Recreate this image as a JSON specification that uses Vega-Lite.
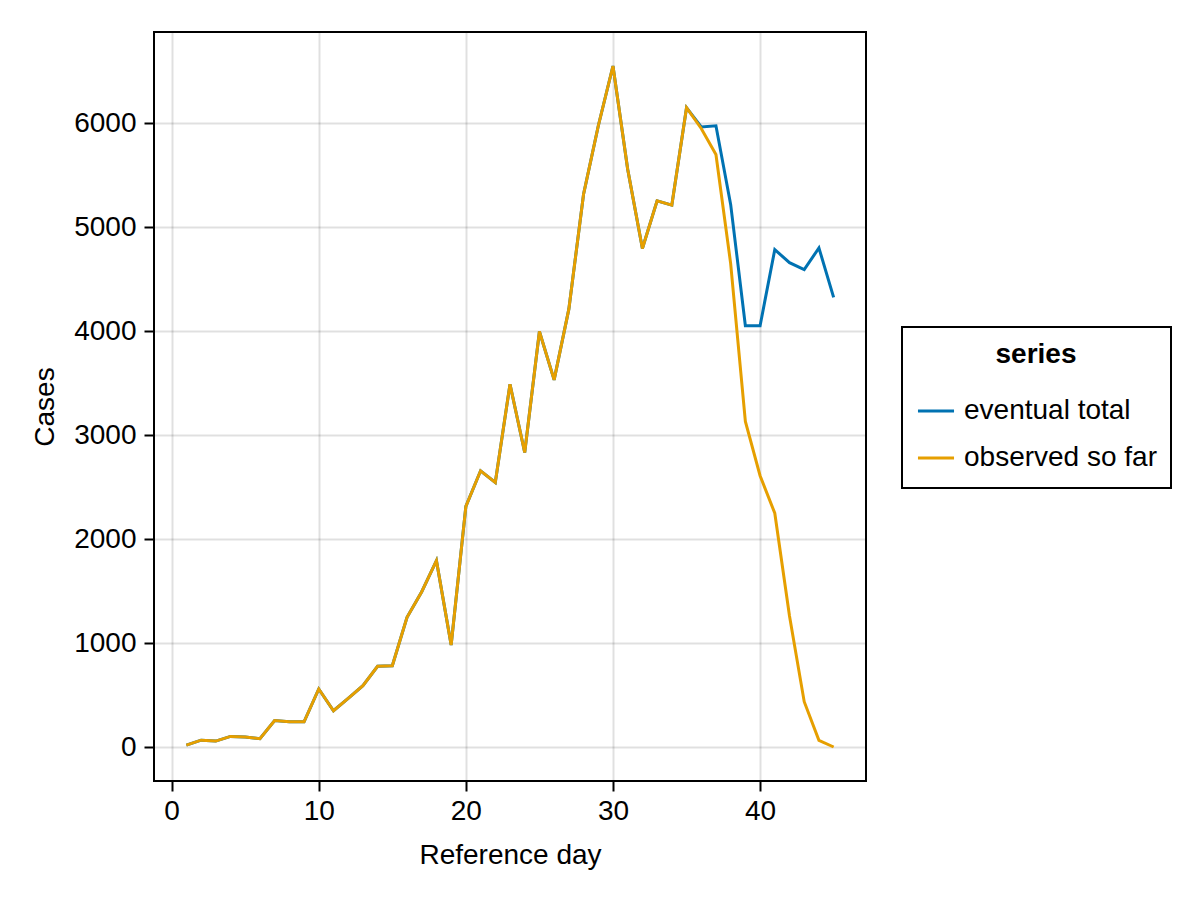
{
  "$schema": "https://vega.github.io/schema/vega-lite/v6.json",
  "description": "Eventual total vs observed so far, cases by reference day",
  "autosize": "none",
  "padding": {"left": 154, "top": 32, "right": 334, "bottom": 119},
  "width": 712,
  "height": 749,
  "data": {
    "values": [
      {"day": 1, "series": "eventual total", "cases": 18},
      {"day": 2, "series": "eventual total", "cases": 66},
      {"day": 3, "series": "eventual total", "cases": 57},
      {"day": 4, "series": "eventual total", "cases": 102},
      {"day": 5, "series": "eventual total", "cases": 96},
      {"day": 6, "series": "eventual total", "cases": 80},
      {"day": 7, "series": "eventual total", "cases": 254},
      {"day": 8, "series": "eventual total", "cases": 244},
      {"day": 9, "series": "eventual total", "cases": 243},
      {"day": 10, "series": "eventual total", "cases": 558},
      {"day": 11, "series": "eventual total", "cases": 349},
      {"day": 12, "series": "eventual total", "cases": 468},
      {"day": 13, "series": "eventual total", "cases": 590},
      {"day": 14, "series": "eventual total", "cases": 776},
      {"day": 15, "series": "eventual total", "cases": 782},
      {"day": 16, "series": "eventual total", "cases": 1247},
      {"day": 17, "series": "eventual total", "cases": 1494},
      {"day": 18, "series": "eventual total", "cases": 1792},
      {"day": 19, "series": "eventual total", "cases": 981},
      {"day": 20, "series": "eventual total", "cases": 2315},
      {"day": 21, "series": "eventual total", "cases": 2657},
      {"day": 22, "series": "eventual total", "cases": 2545},
      {"day": 23, "series": "eventual total", "cases": 3490},
      {"day": 24, "series": "eventual total", "cases": 2833},
      {"day": 25, "series": "eventual total", "cases": 3997},
      {"day": 26, "series": "eventual total", "cases": 3532},
      {"day": 27, "series": "eventual total", "cases": 4212},
      {"day": 28, "series": "eventual total", "cases": 5317},
      {"day": 29, "series": "eventual total", "cases": 5974},
      {"day": 30, "series": "eventual total", "cases": 6551},
      {"day": 31, "series": "eventual total", "cases": 5558},
      {"day": 32, "series": "eventual total", "cases": 4795},
      {"day": 33, "series": "eventual total", "cases": 5253},
      {"day": 34, "series": "eventual total", "cases": 5212},
      {"day": 35, "series": "eventual total", "cases": 6150},
      {"day": 36, "series": "eventual total", "cases": 5965},
      {"day": 37, "series": "eventual total", "cases": 5976},
      {"day": 38, "series": "eventual total", "cases": 5220},
      {"day": 39, "series": "eventual total", "cases": 4053},
      {"day": 40, "series": "eventual total", "cases": 4053},
      {"day": 41, "series": "eventual total", "cases": 4785},
      {"day": 42, "series": "eventual total", "cases": 4659},
      {"day": 43, "series": "eventual total", "cases": 4592},
      {"day": 44, "series": "eventual total", "cases": 4801},
      {"day": 45, "series": "eventual total", "cases": 4325},
      {"day": 1, "series": "observed so far", "cases": 18},
      {"day": 2, "series": "observed so far", "cases": 66},
      {"day": 3, "series": "observed so far", "cases": 57},
      {"day": 4, "series": "observed so far", "cases": 102},
      {"day": 5, "series": "observed so far", "cases": 96},
      {"day": 6, "series": "observed so far", "cases": 80},
      {"day": 7, "series": "observed so far", "cases": 254},
      {"day": 8, "series": "observed so far", "cases": 244},
      {"day": 9, "series": "observed so far", "cases": 243},
      {"day": 10, "series": "observed so far", "cases": 558},
      {"day": 11, "series": "observed so far", "cases": 349},
      {"day": 12, "series": "observed so far", "cases": 468},
      {"day": 13, "series": "observed so far", "cases": 590},
      {"day": 14, "series": "observed so far", "cases": 776},
      {"day": 15, "series": "observed so far", "cases": 782},
      {"day": 16, "series": "observed so far", "cases": 1247},
      {"day": 17, "series": "observed so far", "cases": 1494},
      {"day": 18, "series": "observed so far", "cases": 1792},
      {"day": 19, "series": "observed so far", "cases": 981},
      {"day": 20, "series": "observed so far", "cases": 2315},
      {"day": 21, "series": "observed so far", "cases": 2657},
      {"day": 22, "series": "observed so far", "cases": 2545},
      {"day": 23, "series": "observed so far", "cases": 3490},
      {"day": 24, "series": "observed so far", "cases": 2833},
      {"day": 25, "series": "observed so far", "cases": 3997},
      {"day": 26, "series": "observed so far", "cases": 3532},
      {"day": 27, "series": "observed so far", "cases": 4212},
      {"day": 28, "series": "observed so far", "cases": 5317},
      {"day": 29, "series": "observed so far", "cases": 5974},
      {"day": 30, "series": "observed so far", "cases": 6551},
      {"day": 31, "series": "observed so far", "cases": 5558},
      {"day": 32, "series": "observed so far", "cases": 4795},
      {"day": 33, "series": "observed so far", "cases": 5253},
      {"day": 34, "series": "observed so far", "cases": 5212},
      {"day": 35, "series": "observed so far", "cases": 6150},
      {"day": 36, "series": "observed so far", "cases": 5950},
      {"day": 37, "series": "observed so far", "cases": 5700},
      {"day": 38, "series": "observed so far", "cases": 4650},
      {"day": 39, "series": "observed so far", "cases": 3132},
      {"day": 40, "series": "observed so far", "cases": 2610},
      {"day": 41, "series": "observed so far", "cases": 2249},
      {"day": 42, "series": "observed so far", "cases": 1261},
      {"day": 43, "series": "observed so far", "cases": 436},
      {"day": 44, "series": "observed so far", "cases": 64},
      {"day": 45, "series": "observed so far", "cases": 0}
    ]
  },
  "mark": {"type": "line", "strokeWidth": 3},
  "encoding": {
    "x": {
      "field": "day",
      "type": "quantitative",
      "title": "Reference day",
      "scale": {"domain": [-1.2, 47.2], "nice": false, "zero": false},
      "axis": {"values": [0, 10, 20, 30, 40]}
    },
    "y": {
      "field": "cases",
      "type": "quantitative",
      "title": "Cases",
      "scale": {"domain": [-327, 6878], "nice": false, "zero": false},
      "axis": {"values": [0, 1000, 2000, 3000, 4000, 5000, 6000], "format": "d"}
    },
    "color": {
      "field": "series",
      "type": "nominal",
      "title": "series",
      "scale": {
        "domain": ["eventual total", "observed so far"],
        "range": ["#0072B2", "#E69F00"]
      },
      "legend": {"orient": "none", "legendX": 748, "legendY": 295}
    }
  },
  "config": {
    "font": "Liberation Sans",
    "view": {"stroke": "black", "strokeWidth": 2},
    "axis": {
      "domain": false,
      "grid": true,
      "gridColor": "black",
      "gridOpacity": 0.12,
      "gridWidth": 2,
      "ticks": true,
      "tickColor": "black",
      "tickWidth": 2,
      "tickSize": 10,
      "labelFontSize": 28,
      "labelColor": "black",
      "labelPadding": 6,
      "titleFontSize": 28,
      "titleFontWeight": "normal",
      "titleColor": "black"
    },
    "axisX": {"titlePadding": 16},
    "axisY": {"labelPadding": 8, "titlePadding": 14},
    "legend": {
      "strokeColor": "black",
      "strokeWidth": 2,
      "padding": 14,
      "titleFontSize": 28,
      "titleFontWeight": "bold",
      "titleColor": "black",
      "titleAnchor": "middle",
      "titlePadding": 26,
      "labelFontSize": 28,
      "labelColor": "black",
      "labelOffset": 8,
      "labelLimit": 0,
      "symbolType": "stroke",
      "symbolStrokeWidth": 3,
      "symbolSize": 1300,
      "clipHeight": 32,
      "rowPadding": 15
    }
  }
}
